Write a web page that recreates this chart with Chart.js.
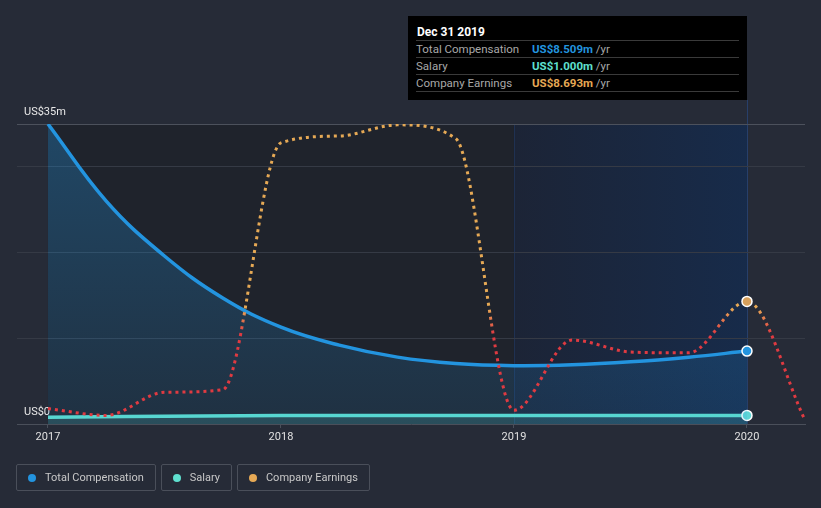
<!DOCTYPE html>
<html>
<head>
<meta charset="utf-8">
<script src="https://cdn.jsdelivr.net/npm/chart.js@4/dist/chart.umd.min.js"></script>
<style>
  html, body { margin: 0; padding: 0; background: #262b37; width: 821px; height: 508px; overflow: hidden; font-family: Roboto, "Open Sans", sans-serif; }
  #wrap { position: relative; width: 821px; height: 508px; }
  canvas { position: absolute; left: 0; top: 0; }
  #tip { position: absolute; left: 408px; top: 16px; width: 339px; height: 84px; background: #000; font-size: 11.5px; }
  #tip .title { position: absolute; left: 9px; top: 9px; color: #fff; font-weight: bold; font-size: 12px; }
  #tip .row { position: absolute; left: 8px; width: 323px; height: 16px; border-top: 1px solid #3a3a3a; }
  #tip .row.last { border-bottom: 1px solid #3a3a3a; }
  #tip .lab { position: absolute; left: 0; top: 1px; color: #a8a8a8; }
  #tip .val { position: absolute; left: 116px; top: 1px; font-weight: bold; }
  #tip .yr { color: #a8a8a8; font-weight: normal; }
  #legend { position: absolute; left: 16px; top: 464px; display: flex; gap: 5px; }
  .lg { height: 25px; border: 1px solid #4a4f5a; border-radius: 2px; display: flex; align-items: center; padding: 0 11px 0 11px; color: #c8c8c8; font-size: 11px; }
  .dot { width: 8px; height: 8px; border-radius: 50%; margin-right: 9px; }
</style>
</head>
<body>
<div id="wrap">
  <canvas id="c" width="821" height="508"></canvas>
  <div id="tip">
    <div class="title">Dec 31 2019</div>
    <div class="row" style="top:24px"><span class="lab">Total Compensation</span><span class="val" style="color:#2394df">US$8.509m <span class="yr">/yr</span></span></div>
    <div class="row" style="top:41px"><span class="lab">Salary</span><span class="val" style="color:#5fe0cf">US$1.000m <span class="yr">/yr</span></span></div>
    <div class="row last" style="top:58px"><span class="lab">Company Earnings</span><span class="val" style="color:#e6a955">US$8.693m <span class="yr">/yr</span></span></div>
  </div>
  <div id="legend">
    <div class="lg"><span class="dot" style="background:#2394df"></span>Total Compensation</div>
    <div class="lg"><span class="dot" style="background:#5fe0cf"></span>Salary</div>
    <div class="lg"><span class="dot" style="background:#e6a955"></span>Company Earnings</div>
  </div>
</div>
<script>
// ---- data (values in US$ millions) ----
const compYears     = [2017, 2017.25, 2017.5, 2017.75, 2018, 2018.25, 2018.5, 2018.75, 2019, 2019.25, 2019.5, 2019.75, 2020];
const totalComp     = [35.0, 26.0, 19.6, 14.7, 11.3, 9.2, 7.8, 7.05, 6.8, 6.9, 7.25, 7.8, 8.509];
const salaryYears   = [2017, 2018, 2019, 2020];
const salary        = [0.8, 1.0, 1.0, 1.0];
const earningsYears = [2017, 2017.25, 2017.5, 2017.75, 2018, 2018.25, 2018.5, 2018.75, 2019, 2019.25, 2019.5, 2019.75, 2020, 2020.25];
const earnings      = [1.8, 1.0, 3.7, 4.0, 32.8, 33.6, 34.9, 33.3, 1.6, 9.8, 8.4, 8.3, 14.3, 0.4];
const xTickValues   = [2017, 2018, 2019, 2020];
const xTickLabels   = ['2017', '2018', '2019', '2020'];
const yTickValues   = [0, 10, 20, 30, 35];
const yTickLabels   = ['US$0', '', '', '', 'US$35m'];
const highlightYear = 2020;

const toXY = (xs, ys) => xs.map((x, i) => ({ x: x, y: ys[i] }));

const bgPlugin = {
  id: 'bg',
  beforeDraw(chart) {
    const { ctx, chartArea, scales } = chart;
    const x = scales.x;
    const x17 = x.getPixelForValue(2017), x19 = x.getPixelForValue(2019), x20 = x.getPixelForValue(2020);
    ctx.save();
    ctx.fillStyle = '#1f232c';
    ctx.fillRect(x17, chartArea.top, x19 - x17, chartArea.bottom - chartArea.top);
    const g = ctx.createLinearGradient(x19, 0, x20, 0);
    g.addColorStop(0, '#1c2436');
    g.addColorStop(1, '#172b4a');
    ctx.fillStyle = g;
    ctx.fillRect(x19, chartArea.top, x20 - x19, chartArea.bottom - chartArea.top);
    ctx.lineWidth = 1;
    ctx.strokeStyle = 'rgba(40,80,150,0.3)';
    ctx.beginPath();
    ctx.moveTo(Math.round(x19) + 0.5, chartArea.top);
    ctx.lineTo(Math.round(x19) + 0.5, chartArea.bottom);
    ctx.stroke();
    ctx.strokeStyle = 'rgba(40,80,150,0.55)';
    ctx.beginPath();
    ctx.moveTo(Math.round(x20) + 0.5, 100);
    ctx.lineTo(Math.round(x20) + 0.5, chartArea.bottom);
    ctx.stroke();
    ctx.restore();
  }
};

const isHighlight = (c) => c.raw && c.raw.x === highlightYear;

new Chart(document.getElementById('c'), {
  type: 'line',
  data: {
    datasets: [
      {
        label: 'Company Earnings',
        data: toXY(earningsYears, earnings),
        borderColor: (c) => {
          const { chart } = c;
          const { chartArea, scales } = chart;
          if (!chartArea) return '#e6a955';
          const g = chart.ctx.createLinearGradient(0, scales.y.getPixelForValue(13.5), 0, scales.y.getPixelForValue(10.5));
          g.addColorStop(0, '#e6a955');
          g.addColorStop(1, '#e03a41');
          return g;
        },
        borderWidth: 3,
        borderDash: [3, 4],
        cubicInterpolationMode: 'monotone',
        fill: false,
        pointRadius: (c) => isHighlight(c) ? 5 : 0,
        pointBackgroundColor: '#d6a05c',
        pointBorderColor: '#ffffff',
        pointBorderWidth: 1.5
      },
      {
        label: 'Total Compensation',
        data: toXY(compYears, totalComp),
        borderColor: '#2394df',
        borderWidth: 3.5,
        tension: 0.4,
        fill: 'origin',
        backgroundColor: (c) => {
          const { chart } = c;
          const { chartArea } = chart;
          if (!chartArea) return 'rgba(35,148,223,0.25)';
          const g = chart.ctx.createLinearGradient(0, chartArea.top, 0, chartArea.bottom);
          g.addColorStop(0, 'rgba(35,148,223,0.32)');
          g.addColorStop(1, 'rgba(35,148,223,0.12)');
          return g;
        },
        pointRadius: (c) => isHighlight(c) ? 5 : 0,
        pointBackgroundColor: '#2394df',
        pointBorderColor: '#ffffff',
        pointBorderWidth: 1.5
      },
      {
        label: 'Salary',
        data: toXY(salaryYears, salary),
        borderColor: '#5fe0cf',
        borderWidth: 3.5,
        cubicInterpolationMode: 'monotone',
        fill: 'origin',
        backgroundColor: 'rgba(95,224,207,0.18)',
        pointRadius: (c) => isHighlight(c) ? 5 : 0,
        pointBackgroundColor: '#5fd6d6',
        pointBorderColor: '#ffffff',
        pointBorderWidth: 1.5
      }
    ]
  },
  options: {
    responsive: false,
    animation: false,
    devicePixelRatio: 1,
    layout: { padding: { left: 17, right: 16, top: 124, bottom: 64 } },
    plugins: { legend: { display: false }, tooltip: { enabled: false } },
    scales: {
      x: {
        type: 'linear',
        min: 2016.867,
        max: 2020.249,
        afterBuildTicks: (s) => { s.ticks = xTickValues.map(v => ({ value: v })); },
        afterFit: (s) => { s.height = 20; },
        ticks: {
          autoSkip: false,
          maxRotation: 0,
          padding: 3,
          color: '#e0e0e0',
          font: { family: 'Roboto', size: 11 },
          callback: (v) => xTickLabels[xTickValues.indexOf(v)]
        },
        grid: { drawOnChartArea: false, drawTicks: true, tickLength: 4, color: '#4a4f5a' },
        border: { display: true, color: '#4a4f5a', width: 1 }
      },
      y: {
        min: 0,
        max: 35,
        afterBuildTicks: (s) => { s.ticks = yTickValues.map(v => ({ value: v })); },
        afterFit: (s) => { s.width = 0; },
        ticks: {
          mirror: true,
          padding: 7,
          labelOffset: -12,
          color: '#e8e8e8',
          font: { family: 'Roboto', size: 11 },
          callback: (v) => yTickLabels[yTickValues.indexOf(v)]
        },
        grid: {
          drawTicks: false,
          color: (c) => c.tick.value === 35 ? '#4c515c' : (c.tick.value === 0 ? 'rgba(0,0,0,0)' : '#353a45'),
          lineWidth: 1
        },
        border: { display: false }
      }
    }
  },
  plugins: [bgPlugin]
});
</script>
</body>
</html>
